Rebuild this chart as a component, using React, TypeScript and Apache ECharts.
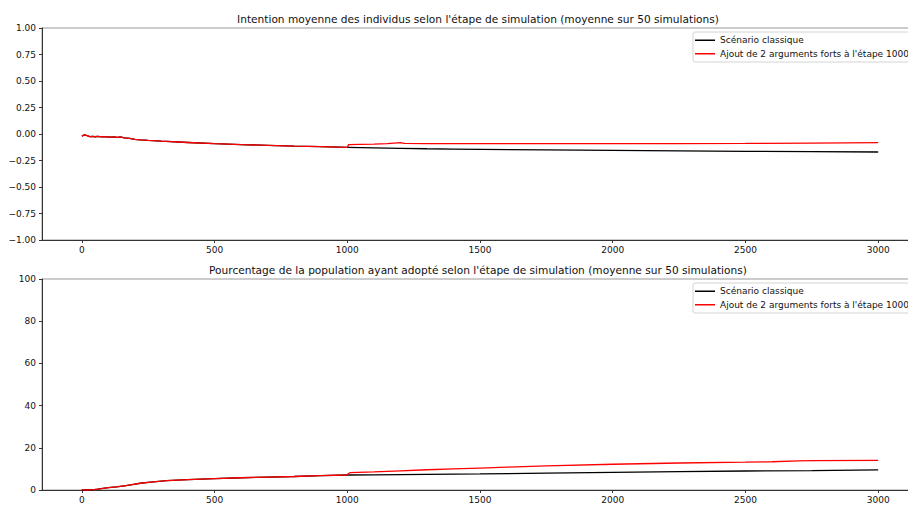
import React, { useEffect, useRef } from "react";
import * as echarts from "echarts";

// Shared trajectory (both scenarios identical up to step 1000)
const intentStepsCommon = [0, 10, 20, 30, 40, 50, 60, 75, 90, 105, 120, 135, 145, 160, 180, 200, 220, 250, 300, 400, 500, 600, 700, 800, 900, 1000];
const intentCommon = [-0.02, -0.008, -0.015, -0.024, -0.022, -0.026, -0.023, -0.028, -0.026, -0.03, -0.028, -0.031, -0.027, -0.036, -0.042, -0.05, -0.056, -0.061, -0.068, -0.08, -0.091, -0.1, -0.107, -0.114, -0.12, -0.126];
const intentClassicSteps = [1100, 1200, 1300, 1400, 1500, 1750, 2000, 2250, 2500, 2750, 3000];
const intentClassicVals = [-0.131, -0.135, -0.139, -0.142, -0.145, -0.15, -0.155, -0.159, -0.163, -0.167, -0.17];
const intentStrongSteps = [1005, 1050, 1100, 1150, 1190, 1200, 1215, 1300, 1500, 1750, 2000, 2250, 2500, 2750, 3000];
const intentStrongVals = [-0.1, -0.098, -0.096, -0.09, -0.083, -0.082, -0.089, -0.09, -0.091, -0.091, -0.091, -0.09, -0.089, -0.086, -0.082];

const adoptStepsCommon = [0, 40, 60, 80, 100, 130, 160, 190, 220, 250, 280, 320, 400, 500, 600, 700, 800, 900, 1000];
const adoptCommon = [0, 0.1, 0.4, 0.8, 1.1, 1.5, 2.0, 2.5, 3.2, 3.6, 4.0, 4.4, 4.9, 5.4, 5.8, 6.1, 6.4, 6.8, 7.1];
const adoptClassicSteps = [1100, 1200, 1300, 1500, 1750, 2000, 2250, 2500, 2750, 3000];
const adoptClassicVals = [7.2, 7.3, 7.4, 7.6, 8.0, 8.4, 8.7, 9.0, 9.2, 9.5];
const adoptStrongSteps = [1005, 1010, 1100, 1200, 1300, 1400, 1500, 1600, 1750, 2000, 2250, 2500, 2600, 2700, 2750, 3000];
const adoptStrongVals = [7.8, 8.2, 8.6, 9.1, 9.6, 10.0, 10.4, 10.8, 11.4, 12.2, 12.8, 13.2, 13.4, 13.8, 13.9, 14.0];

const xTicks = [0, 500, 1000, 1500, 2000, 2500, 3000];
const seriesNames = ["Scénario classique", "Ajout de 2 arguments forts à l'étape 1000"];
const titles = [
  "Intention moyenne des individus selon l'étape de simulation (moyenne sur 50 simulations)",
  "Pourcentage de la population ayant adopté selon l'étape de simulation (moyenne sur 50 simulations)",
];

const pairs = (xs: number[], ys: number[]) => xs.map((x, i) => [x, ys[i]]);

const FONT = "DejaVu Sans";
const TXT = "#111";
const TICK_FS = 9;
const TITLE_FS = 10.6;

export default function App() {
  const ref = useRef<HTMLDivElement>(null);
  useEffect(() => {
    document.body.style.margin = "0";
    const chart = echarts.init(ref.current!, null, { renderer: "svg" });
    const intentClassic = [...pairs(intentStepsCommon, intentCommon), ...pairs(intentClassicSteps, intentClassicVals)];
    const intentStrong = [...pairs(intentStepsCommon, intentCommon), ...pairs(intentStrongSteps, intentStrongVals)];
    const adoptClassic = [...pairs(adoptStepsCommon, adoptCommon), ...pairs(adoptClassicSteps, adoptClassicVals)];
    const adoptStrong = [...pairs(adoptStepsCommon, adoptCommon), ...pairs(adoptStrongSteps, adoptStrongVals)];

    const xAxisBase = (gridIndex: number) => ({
      type: "value",
      gridIndex,
      min: -150,
      max: 3150,
      splitLine: { show: false },
      axisLine: { show: true, onZero: false, lineStyle: { color: "#333", width: 1 } },
      axisTick: { show: true, customValues: xTicks, length: 3, lineStyle: { color: "#333" } },
      axisLabel: { customValues: xTicks, formatter: (v: number) => String(v), margin: 5, fontSize: TICK_FS, fontFamily: FONT, color: TXT },
    });
    const fmtY = (v: number) => (v < 0 ? "\u2212" + Math.abs(v).toFixed(2) : v.toFixed(2));

    const legendBase = (top: number) => ({
      orient: "vertical",
      left: 693,
      top,
      data: seriesNames,
      icon: "rect",
      itemWidth: 20,
      itemHeight: 1.5,
      itemGap: 3,
      padding: [3, 6, 3, 2],
      borderColor: "#d4d4d4",
      borderWidth: 1,
      borderRadius: 2,
      backgroundColor: "#fff",
      textStyle: { fontSize: TICK_FS, fontFamily: FONT, color: TXT, lineHeight: 10.5 },
    });

    chart.setOption({
      animation: false,
      backgroundColor: "#fff",
      title: [
        { text: titles[0], left: 473, top: 8, textAlign: "center", textStyle: { fontSize: TITLE_FS, fontWeight: "normal", fontFamily: FONT, color: TXT } },
        { text: titles[1], left: 473, top: 259, textAlign: "center", textStyle: { fontSize: TITLE_FS, fontWeight: "normal", fontFamily: FONT, color: TXT } },
      ],
      legend: [
        { ...legendBase(32) },
        { ...legendBase(283) },
      ],
      grid: [
        { left: 42, top: 28, width: 876, height: 212, show: true, borderColor: "#999", borderWidth: 1, backgroundColor: "transparent" },
        { left: 42, top: 279, width: 876, height: 211, show: true, borderColor: "#999", borderWidth: 1, backgroundColor: "transparent" },
      ],
      xAxis: [xAxisBase(0), xAxisBase(1)],
      yAxis: [
        {
          type: "value",
          gridIndex: 0,
          min: -1,
          max: 1,
          interval: 0.25,
          splitLine: { show: false },
          axisLine: { show: true, onZero: false, lineStyle: { color: "#333", width: 1 } },
          axisTick: { show: true, length: 3, lineStyle: { color: "#333" } },
          axisLabel: { formatter: fmtY, margin: 6, fontSize: TICK_FS, fontFamily: FONT, color: TXT },
        },
        {
          type: "value",
          gridIndex: 1,
          min: 0,
          max: 100,
          interval: 20,
          splitLine: { show: false },
          axisLine: { show: true, onZero: false, lineStyle: { color: "#333", width: 1 } },
          axisTick: { show: true, length: 3, lineStyle: { color: "#333" } },
          axisLabel: { margin: 6, fontSize: TICK_FS, fontFamily: FONT, color: TXT },
        },
      ],
      series: [
        { name: seriesNames[0], type: "line", xAxisIndex: 0, yAxisIndex: 0, data: intentClassic, showSymbol: false, color: "#000", lineStyle: { color: "#000", width: 1.3 } },
        { name: seriesNames[1], type: "line", xAxisIndex: 0, yAxisIndex: 0, data: intentStrong, showSymbol: false, color: "#ff0000", lineStyle: { color: "#ff0000", width: 1.3 } },
        { name: seriesNames[0], type: "line", xAxisIndex: 1, yAxisIndex: 1, data: adoptClassic, showSymbol: false, color: "#000", lineStyle: { color: "#000", width: 1.3 } },
        { name: seriesNames[1], type: "line", xAxisIndex: 1, yAxisIndex: 1, data: adoptStrong, showSymbol: false, color: "#ff0000", lineStyle: { color: "#ff0000", width: 1.3 } },
      ],
    });
    return () => chart.dispose();
  }, []);
  return (
    <div style={{ width: 908, height: 506, overflow: "hidden", position: "relative" }}>
      <div ref={ref} style={{ width: 940, height: 506, position: "absolute", left: 0, top: 0 }} />
    </div>
  );
}
